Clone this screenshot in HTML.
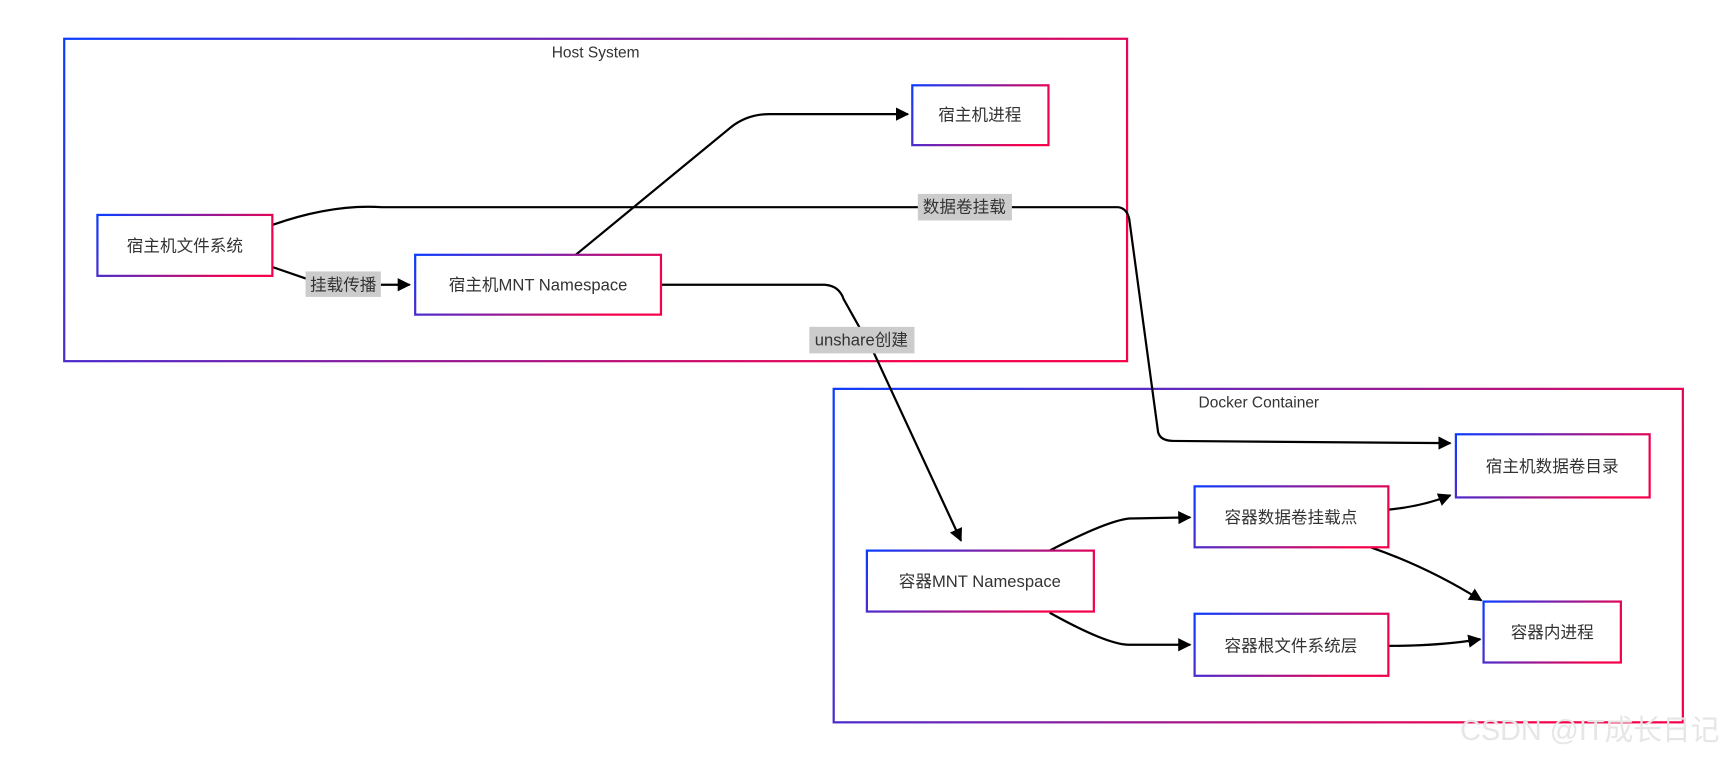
<!DOCTYPE html>
<html><head><meta charset="utf-8"><style>
html,body{margin:0;padding:0;background:#fff;width:1736px;height:760px;overflow:hidden}
svg{display:block}
text{font-family:"Liberation Sans","Noto Sans CJK SC",sans-serif;fill:#333}
</style></head><body>
<svg width="1736" height="760" viewBox="0 0 1568 686" preserveAspectRatio="none" xmlns="http://www.w3.org/2000/svg">
<defs>
<linearGradient id="g" x1="0" y1="0" x2="1" y2="0.3"><stop offset="0" stop-color="#0a3cff"/><stop offset="1" stop-color="#f5004a"/></linearGradient>
<marker id="a" viewBox="0 0 10 10" refX="9" refY="5" markerWidth="6" markerHeight="6" orient="auto"><path d="M0,0L10,5L0,10z" fill="#000"/></marker>
</defs>
<rect x="58" y="35" width="960" height="291" fill="none" stroke="url(#g)" stroke-width="2"/>
<text x="538" y="52" font-size="14" text-anchor="middle" fill="#000">Host System</text>
<rect x="753" y="351" width="767" height="301" fill="none" stroke="url(#g)" stroke-width="2"/>
<text x="1137" y="368" font-size="14" text-anchor="middle" fill="#000">Docker Container</text>

<g fill="none" stroke="#000" stroke-width="2">
<path d="M520,230 L660,115 Q675,103 695,103 L820,103" marker-end="url(#a)"/>
<path d="M246,203 Q300,184 345,187 L1010,187 Q1018,188 1020,198 L1046,390 Q1048,398 1060,398 L1310,400" marker-end="url(#a)"/>
<path d="M246,241 L278,252 M344,257 L370,257" marker-end="url(#a)"/>
<path d="M597,257 L745,257 Q758,258 762,270 L790,320 L868,488" marker-end="url(#a)"/>
<path d="M948,497 Q1000,470 1020,468 L1075,467" marker-end="url(#a)"/>
<path d="M948,553 Q1000,582 1020,582 L1075,582" marker-end="url(#a)"/>
<path d="M1254,460 Q1285,457 1310,447" marker-end="url(#a)"/>
<path d="M1238,494 Q1290,512 1338,542" marker-end="url(#a)"/>
<path d="M1254,583 Q1300,583 1337,577" marker-end="url(#a)"/>
</g>

<rect x="276" y="245" width="68" height="23" fill="#ccc"/>
<text x="310" y="262" font-size="15" text-anchor="middle">挂载传播</text>
<rect x="829" y="175" width="85" height="24" fill="#ccc"/>
<text x="871" y="192" font-size="15" text-anchor="middle">数据卷挂载</text>
<rect x="731" y="295" width="95" height="24" fill="#ccc"/>
<text x="778" y="312" font-size="15" text-anchor="middle">unshare创建</text>

<g fill="#fff" stroke="url(#g)" stroke-width="2">
<rect x="824" y="77" width="123" height="54"/>
<rect x="88" y="194" width="158" height="55"/>
<rect x="375" y="230" width="222" height="54"/>
<rect x="1315" y="392" width="175" height="57"/>
<rect x="1079" y="439" width="175" height="55"/>
<rect x="783" y="497" width="205" height="55"/>
<rect x="1079" y="554" width="175" height="56"/>
<rect x="1340" y="543" width="124" height="55"/>
</g>
<g font-size="15" text-anchor="middle">
<text x="885" y="109">宿主机进程</text>
<text x="167" y="227">宿主机文件系统</text>
<text x="486" y="262">宿主机MNT Namespace</text>
<text x="1402" y="426">宿主机数据卷目录</text>
<text x="1166" y="472">容器数据卷挂载点</text>
<text x="885" y="530">容器MNT Namespace</text>
<text x="1166" y="588">容器根文件系统层</text>
<text x="1402" y="576">容器内进程</text>
</g>
<text x="1436" y="668" font-size="26" text-anchor="middle" style="fill:#e6e6e6">CSDN @IT成长日记</text>
</svg>
</body></html>
